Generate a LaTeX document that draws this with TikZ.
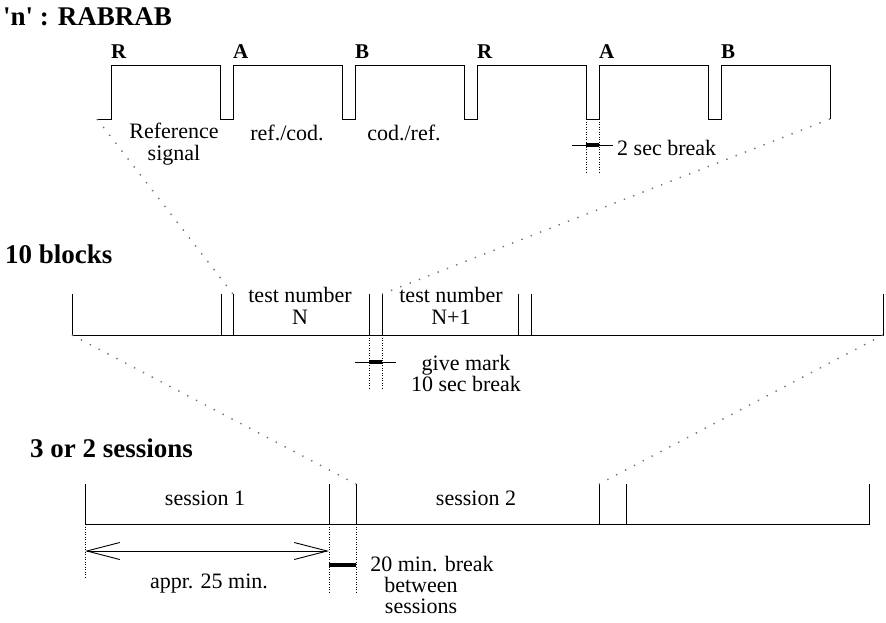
\documentclass[tikz,border=0pt]{standalone}
\usepackage{fontspec}
\setmainfont{Liberation Serif}
\usetikzlibrary{arrows.meta}

\begin{document}
\begin{tikzpicture}[x=1pt,y=-1pt,
  wire/.style={line width=1pt, line join=miter},
  zoomline/.style={black!55, line width=1.4pt, dash pattern=on 1.4pt off 8.6pt},
  guide/.style={line width=0.8pt, dash pattern=on 0.8pt off 1.7pt},
  pause/.style={line width=4pt},
  lbl/.style={font=\fontsize{22}{24}\selectfont, inner sep=0pt, anchor=base},
  ttl/.style={font=\bfseries\fontsize{27}{30}\selectfont, inner sep=0pt, anchor=base west},
  sym/.style={font=\bfseries\fontsize{21}{24}\selectfont, inner sep=0pt, anchor=base west},
  dimarrow/.style={line width=0.9pt, {Straight Barb[length=33pt,width=17pt]}-{Straight Barb[length=33pt,width=17pt]}}
]
\useasboundingbox (0,0) rectangle (886,622);

% ---------- one test: R A B R A B ----------
\node[ttl] (ttop) at (3,25) {\textquotesingle n\textquotesingle{} : RABRAB};
\coordinate (topL) at (97,119);
\coordinate (topR) at (830,119);
\draw[wire] (topL) \foreach \r in {111,233,355,477,599,721} {
  -- (\r,119) -- (\r,65) -- (\r+109,65) -- (\r+109,119) };
\node[sym] (p1) at (111,58) {R};
\node[sym] (p2) at (233,58) {A};
\node[sym] (p3) at (355,58) {B};
\node[sym] (p4) at (477,58) {R};
\node[sym] (p5) at (599,58) {A};
\node[sym] (p6) at (721,58) {B};
\node[lbl] (ref1) at (174,138) {Reference};
\node[lbl] (ref2) at (174,160) {signal};
\node[lbl] (rc) at (287,140) {ref./cod.};
\node[lbl] (cr) at (404,140) {cod./ref.};

% 2 sec break marker
\coordinate (g1a) at (586,119); \coordinate (g1b) at (586,172);
\coordinate (g2a) at (599,119); \coordinate (g2b) at (599,172);
\coordinate (h1a) at (572,145); \coordinate (h1b) at (613,145);
\coordinate (k1a) at (586,145); \coordinate (k1b) at (599,145);
\draw[guide] (g1a) -- (g1b);
\draw[guide] (g2a) -- (g2b);
\draw[wire] (h1a) -- (h1b);
\draw[pause] (k1a) -- (k1b);
\node[lbl, anchor=base west] (sb) at (617,155) {2 sec break};

% ---------- 10 blocks ----------
\node[ttl] (tmid) at (5,263) {10 blocks};
\foreach \i/\x in {1/72,2/221,3/233,4/369,5/382,6/518,7/531,8/883} {
  \coordinate (m\i t) at (\x,294);
  \coordinate (m\i b) at (\x,335);
}
\draw[wire] (m1t) -- (m1b) -- (m8b) -- (m8t);
\foreach \i in {2,...,7} { \draw[wire] (m\i t) -- (m\i b); }
\node[lbl] (tn1) at (300,302) {test number};
\node[lbl] (tn2) at (300,324) {N};
\node[lbl] (tm1) at (451,302) {test number};
\node[lbl] (tm2) at (451,324) {N+1};

% 10 sec break marker
\coordinate (g3b) at (369,388); \coordinate (g4b) at (382,388);
\coordinate (h2a) at (355,362); \coordinate (h2b) at (396,362);
\coordinate (k2a) at (369,362); \coordinate (k2b) at (382,362);
\draw[guide] (m4b) -- (g3b);
\draw[guide] (m5b) -- (g4b);
\draw[wire] (h2a) -- (h2b);
\draw[pause] (k2a) -- (k2b);
\node[lbl] (gm1) at (466,370) {give mark};
\node[lbl] (gm2) at (466,391) {10 sec break};

% ---------- sessions ----------
\node[ttl] (tbot) at (30,457) {3 or 2 sessions};
\foreach \i/\x in {1/85,2/329,3/356,4/599,5/626,6/869} {
  \coordinate (b\i t) at (\x,484);
  \coordinate (b\i b) at (\x,524);
}
\draw[wire] (b1t) -- (b1b) -- (b6b) -- (b6t);
\foreach \i in {2,...,5} { \draw[wire] (b\i t) -- (b\i b); }
\node[lbl] (s1) at (205,505) {session 1};
\node[lbl] (s2) at (476,505) {session 2};

% duration and 20 min. break
\coordinate (d1) at (85,577);
\coordinate (d2) at (329,592);
\coordinate (d3) at (356,592);
\coordinate (a1) at (85,551); \coordinate (a2) at (329,551);
\coordinate (k3a) at (329,565); \coordinate (k3b) at (356,565);
\draw[guide] (b1b) -- (d1);
\draw[guide] (b2b) -- (d2);
\draw[guide] (b3b) -- (d3);
\draw[dimarrow] (a1) -- (a2);
\draw[pause] (k3a) -- (k3b);
\node[lbl] (dur) at (209,588) {appr. 25 min.};
\node[lbl] (br1) at (432,571) {20 min. break};
\node[lbl] (br2) at (421,592) {between};
\node[lbl] (br3) at (421,613) {sessions};

% ---------- zoom lines between levels ----------
\draw[zoomline] (topL) -- (m3t);
\draw[zoomline] (topR) -- (m5t);
\draw[zoomline] (m1b) -- (b3t);
\draw[zoomline] (m8b) -- (b4t);
\end{tikzpicture}
\end{document}
